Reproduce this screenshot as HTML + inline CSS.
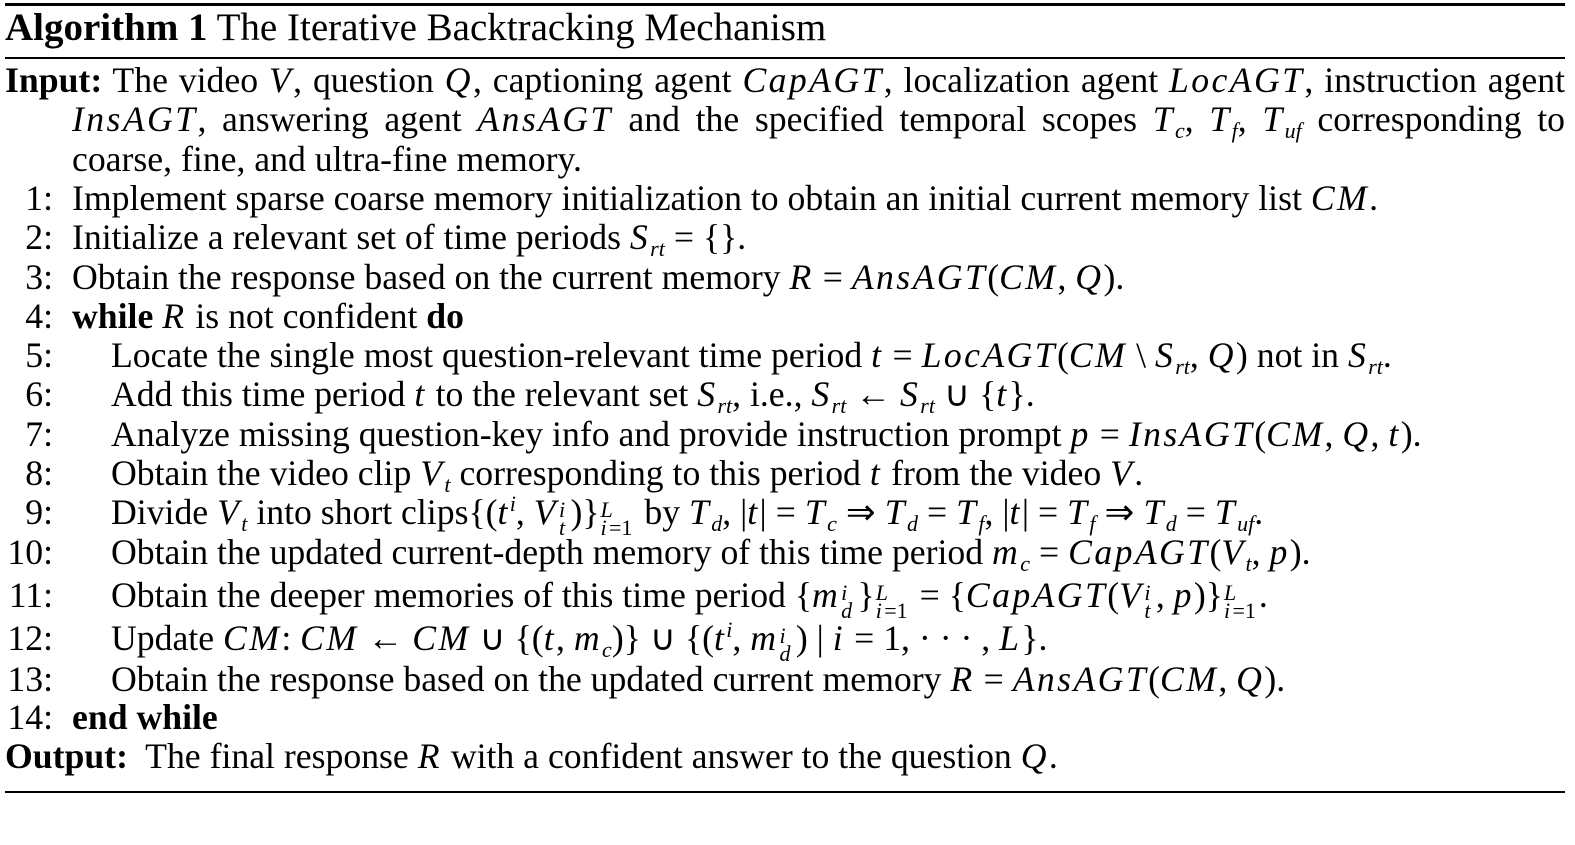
<!DOCTYPE html>
<html><head><meta charset="utf-8"><style>
html,body{margin:0;padding:0;background:#fff;}
body{width:1575px;height:845px;position:relative;overflow:hidden;font-family:"Liberation Serif",serif;color:#000;}
.l{position:absolute;font-size:35.7px;line-height:39px;white-space:nowrap;}
.n{position:absolute;font-size:35.7px;line-height:39px;width:53px;text-align:right;left:0;}
i{font-style:italic;letter-spacing:2.4px;}
sub,sup{font-size:22px;line-height:0;letter-spacing:0;}
sub{vertical-align:-7px;}
sup{vertical-align:13px;}
.ss{display:inline-block;font-size:22px;line-height:18px;vertical-align:-11px;letter-spacing:0;font-style:normal;margin-left:1px;margin-right:3px;}
.ss>span{display:block;}
.ss>span:first-child{font-style:italic;}
.rule{position:absolute;left:5px;width:1560px;background:#000;}
.j{text-align:justify;text-align-last:justify;white-space:normal;}
.o{display:inline-block;margin:0 9px;}
</style></head><body>
<div class="rule" style="top:3px;height:3px"></div>
<div class="l" style="left:5px;top:8px;font-size:39px"><b>Algorithm 1</b> The Iterative Backtracking Mechanism</div>
<div class="rule" style="top:57px;height:1.5px"></div>

<div class="l j" style="left:5px;top:61px;width:1560px"><b>Input:</b> The video <i>V</i>, question <i>Q</i>, captioning agent <i>CapAGT</i>, localization agent <i>LocAGT</i>, instruction agent</div>
<div class="l j" style="left:72px;top:100px;width:1493px"><i>InsAGT</i>, answering agent <i>AnsAGT</i> and the specified temporal scopes <i>T<sub>c</sub></i>, <i>T<sub>f</sub></i>, <i>T<sub>uf</sub></i> corresponding to</div>
<div class="l" style="left:72px;top:140px">coarse, fine, and ultra-fine memory.</div>

<div class="n" style="top:179px">1:</div><div class="l" style="left:72px;top:179px">Implement sparse coarse memory initialization to obtain an initial current memory list <i>CM</i>.</div>
<div class="n" style="top:218px">2:</div><div class="l" style="left:72px;top:218px">Initialize a relevant set of time periods <i>S<sub>rt</sub></i><span class="o">=</span>{}.</div>
<div class="n" style="top:258px">3:</div><div class="l" style="left:72px;top:258px">Obtain the response based on the current memory <i>R</i><span class="o">=</span><i>AnsAGT</i>(<i>CM</i>, <i>Q</i>).</div>
<div class="n" style="top:297px">4:</div><div class="l" style="left:72px;top:297px"><b>while</b> <i>R</i> is not confident <b>do</b></div>
<div class="n" style="top:336px">5:</div><div class="l" style="left:111px;top:336px">Locate the single most question-relevant time period <i>t</i><span class="o">=</span><i>LocAGT</i>(<i>CM</i> \ <i>S<sub>rt</sub></i>, <i>Q</i>) not in <i>S<sub>rt</sub></i>.</div>
<div class="n" style="top:375px">6:</div><div class="l" style="left:111px;top:375px">Add this time period <i>t</i> to the relevant set <i>S<sub>rt</sub></i>, i.e., <i>S<sub>rt</sub></i><span class="o">←</span><i>S<sub>rt</sub></i><span class="o">∪</span>{<i>t</i>}.</div>
<div class="n" style="top:415px">7:</div><div class="l" style="left:111px;top:415px">Analyze missing question-key info and provide instruction prompt <i>p</i><span class="o">=</span><i>InsAGT</i>(<i>CM</i>, <i>Q</i>, <i>t</i>).</div>
<div class="n" style="top:454px">8:</div><div class="l" style="left:111px;top:454px">Obtain the video clip <i>V<sub>t</sub></i> corresponding to this period <i>t</i> from the video <i>V</i>.</div>
<div class="n" style="top:493px">9:</div><div class="l" style="left:111px;top:493px">Divide <i>V<sub>t</sub></i> into short clips{(<i>t<sup>i</sup></i>, <i>V</i><span class="ss"><span>i</span><span><i>t</i></span></span>)}<span class="ss"><span>L</span><span><i>i</i>=1</span></span> by <i>T<sub>d</sub></i>, |<i>t</i>|<span class="o">=</span><i>T<sub>c</sub></i><span class="o">⇒</span><i>T<sub>d</sub></i><span class="o">=</span><i>T<sub>f</sub></i>, |<i>t</i>|<span class="o">=</span><i>T<sub>f</sub></i><span class="o">⇒</span><i>T<sub>d</sub></i><span class="o">=</span><i>T<sub>uf</sub></i>.</div>
<div class="n" style="top:533px">10:</div><div class="l" style="left:111px;top:533px">Obtain the updated current-depth memory of this time period <i>m<sub>c</sub></i><span class="o">=</span><i>CapAGT</i>(<i>V<sub>t</sub></i>, <i>p</i>).</div>
<div class="n" style="top:576px">11:</div><div class="l" style="left:111px;top:576px">Obtain the deeper memories of this time period {<i>m</i><span class="ss"><span>i</span><span><i>d</i></span></span>}<span class="ss"><span>L</span><span><i>i</i>=1</span></span><span class="o">=</span>{<i>CapAGT</i>(<i>V</i><span class="ss"><span>i</span><span><i>t</i></span></span>, <i>p</i>)}<span class="ss"><span>L</span><span><i>i</i>=1</span></span>.</div>
<div class="n" style="top:619px">12:</div><div class="l" style="left:111px;top:619px">Update <i>CM</i>: <i>CM</i><span class="o">←</span><i>CM</i><span class="o">∪</span>{(<i>t</i>, <i>m<sub>c</sub></i>)}<span class="o">∪</span>{(<i>t<sup>i</sup></i>, <i>m</i><span class="ss"><span>i</span><span><i>d</i></span></span>) | <i>i</i><span class="o">=</span>1, · · · , <i>L</i>}.</div>
<div class="n" style="top:660px">13:</div><div class="l" style="left:111px;top:660px">Obtain the response based on the updated current memory <i>R</i><span class="o">=</span><i>AnsAGT</i>(<i>CM</i>, <i>Q</i>).</div>
<div class="n" style="top:698px">14:</div><div class="l" style="left:72px;top:698px"><b>end while</b></div>
<div class="l" style="left:5px;top:737px"><b>Output:</b>&nbsp; The final response <i>R</i> with a confident answer to the question <i>Q</i>.</div>
<div class="rule" style="top:791px;height:1.5px"></div>
</body></html>
